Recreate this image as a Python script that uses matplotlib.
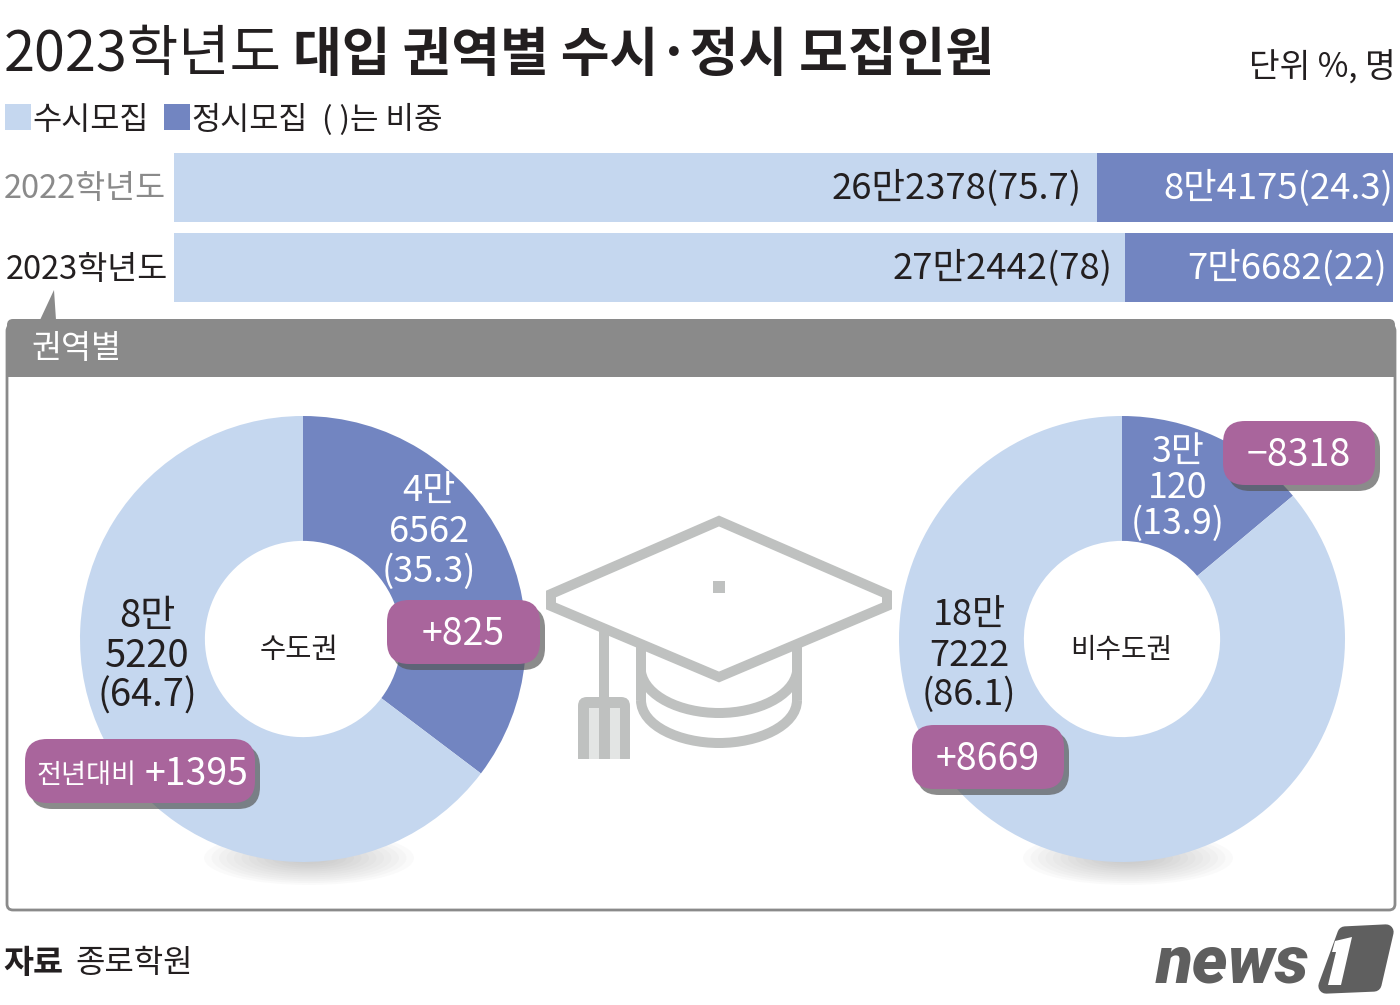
import matplotlib
matplotlib.use("Agg")
import matplotlib.pyplot as plt
from matplotlib.patches import Rectangle, FancyBboxPatch, Polygon, Ellipse, PathPatch
from matplotlib.path import Path

plt.rcParams['font.family'] = ['Noto Sans CJK KR', 'DejaVu Sans']

years = ["2022학년도", "2023학년도"]
susi = [75.7, 78]
jeongsi = [24.3, 22]
susi_labels = ["26만2378(75.7)", "27만2442(78)"]
jeongsi_labels = ["8만4175(24.3)", "7만6682(22)"]

donut_names = ["수도권", "비수도권"]
donut_jeongsi = [35.3, 13.9]
donut_susi = [64.7, 86.1]

LIGHT = "#c5d7ef"
DARK = "#7285c1"
PURPLE = "#a9659c"
CAP = "#bfc1c0"
TXT = "#231f20"
GREY = "#8a8a8a"
LOGO = "#5f5f5f"

W, H = 1400, 1005
fig = plt.figure(figsize=(W/100, H/100), dpi=100)
bg = fig.add_axes([0, 0, 1, 1])
bg.set_xlim(0, W)
bg.set_ylim(H, 0)
bg.axis("off")

# title
bg.text(4, 55, "2023학년도", fontsize=40.2, color=TXT, va="center")
bg.text(293, 55, "대입 권역별 수시·정시 모집인원", fontsize=38.2, color=TXT, va="center", fontweight="bold")
bg.text(1396, 68, "단위 %, 명", fontsize=24, color=TXT, va="center", ha="right")

# legend
bg.add_patch(Rectangle((5, 104), 26, 26, fc=LIGHT, ec="none"))
bg.text(32, 120, "수시모집", fontsize=22.8, color=TXT, va="center")
bg.add_patch(Rectangle((164, 104), 26, 26, fc=DARK, ec="none"))
bg.text(191, 120, "정시모집", fontsize=22.8, color=TXT, va="center")
bg.text(322, 120, "( )는 비중", fontsize=22.3, color=TXT, va="center")

# bars
ax = fig.add_axes([174/W, 1-302/H, (1393-174)/W, (302-153)/H])
ax.barh([0, 1], susi, height=0.8625, color=LIGHT)
ax.barh([0, 1], jeongsi, left=susi, height=0.8625, color=DARK)
ax.set_xlim(0, 100)
ax.set_ylim(1.43125, -0.43125)
ax.axis("off")
for i in range(2):
    ax.text(susi[i]-(1.25 if i == 0 else 1.0), i+0.015, susi_labels[i], ha="right", va="center", fontsize=26.2, color=TXT)
    ax.text(100 if i == 0 else 99.5, i+0.015, jeongsi_labels[i], ha="right", va="center", fontsize=26.2, color="white")
bg.text(4, 189, years[0], fontsize=23.5, color=GREY, va="center")
bg.text(6, 270, years[1], fontsize=23.5, color=TXT, va="center")
bg.add_patch(Polygon([[54, 290], [56, 320], [40, 320]], fc=GREY, ec="none"))

# panel
bg.add_patch(FancyBboxPatch((7, 325), 1388, 585, boxstyle="round,pad=0,rounding_size=6",
                            fc="white", ec=GREY, lw=2))
bg.add_patch(FancyBboxPatch((7, 319), 1388, 58, boxstyle="round,pad=0,rounding_size=6",
                            fc=GREY, ec="none"))
bg.add_patch(Rectangle((7, 340), 1388, 37, fc=GREY, ec="none"))
bg.text(32, 349, "권역별", fontsize=23.5, color="white", va="center")

# soft shadow under the donuts
for cx in (309, 1128):
    for k in range(14):
        f = 1 - k/14
        bg.add_patch(Ellipse((cx, 858), 210*f, 54*f, fc="#808080", ec="none", alpha=0.035))

# donuts
boxes = [(80, 416, 446), (899, 416, 446)]
for (x0, y0, d), a, b in zip(boxes, donut_jeongsi, donut_susi):
    dax = fig.add_axes([x0/W, 1-(y0+d)/H, d/W, d/H])
    dax.pie([a, b], colors=[DARK, LIGHT], startangle=90, counterclock=False,
            radius=1, wedgeprops=dict(width=0.56))
    dax.set_xlim(-1, 1)
    dax.set_ylim(-1, 1)

# everything over the donuts
top = fig.add_axes([0, 0, 1, 1], facecolor="none")
top.set_xlim(0, W)
top.set_ylim(H, 0)
top.axis("off")

# graduation cap
def curve(points, lw=7.2):
    codes = [Path.MOVETO] + [Path.CURVE4]*(len(points)-1)
    top.add_patch(PathPatch(Path(points, codes), fc="none", ec=CAP, lw=lw, capstyle="butt"))

top.plot([641, 641], [645, 700], color=CAP, lw=7.2, solid_capstyle="butt")
top.plot([797, 797], [645, 700], color=CAP, lw=7.2, solid_capstyle="butt")
curve([(641, 700), (641, 726), (680, 743), (719, 743), (758, 743), (797, 726), (797, 700)])
curve([(641, 672), (645, 696), (680, 713), (719, 713), (758, 713), (793, 696), (797, 672)])
top.plot([604, 604], [625, 700], color=CAP, lw=7.2, solid_capstyle="butt")
top.add_patch(Polygon([[719, 521], [887, 594], [887, 606], [719, 677], [551, 606], [551, 594]],
                      closed=True, fc="white", ec=CAP, lw=7.2, joinstyle="miter"))
top.add_patch(FancyBboxPatch((578, 697), 52, 70, boxstyle="round,pad=0,rounding_size=9", fc=CAP, ec="none"))
top.add_patch(Rectangle((575, 759), 60, 12, fc="white", ec="none"))
for x in (589, 610):
    top.add_patch(Rectangle((x, 708), 10, 51, fc="#e3e5e4", ec="none"))
top.add_patch(Rectangle((713, 581), 12, 12, fc=CAP, ec="none"))

# labels on donuts
def stacked(x, ys, lines, color=TXT, fs=26):
    for y, s in zip(ys, lines):
        top.text(x, y, s, ha="center", va="center", fontsize=fs, color=color)

stacked(429, [492, 532, 572], ["4만", "6562", "(35.3)"], color="white")
stacked(147, [616, 656, 696], ["8만", "5220", "(64.7)"], fs=27.5)
stacked(1178, [452, 488, 524], ["3만", "120", "(13.9)"], color="white", fs=25.8)
stacked(969, [616, 656, 695], ["18만", "7222", "(86.1)"])
top.text(299, 650, donut_names[0], ha="center", va="center", fontsize=20.5, color=TXT)
top.text(1121, 650, donut_names[1], ha="center", va="center", fontsize=20, color=TXT)

# change badges
def badge(x, y, w, h, s=None):
    top.add_patch(FancyBboxPatch((x+5, y+6), w, h, boxstyle="round,pad=0,rounding_size=22",
                                 fc="#555555", ec="none", alpha=0.68))
    top.add_patch(FancyBboxPatch((x, y), w, h, boxstyle="round,pad=0,rounding_size=22", fc=PURPLE, ec="none"))
    if s:
        top.text(x+w/2, y+h/2+2, s, ha="center", va="center", fontsize=27, color="white")

badge(387, 600, 153, 64, "+825")
badge(1223, 421, 152, 64, "−8318")
badge(912, 725, 152, 64, "+8669")
badge(25, 739, 230, 64)
top.text(37, 775, "전년대비", va="center", fontsize=19.6, color="white")
top.text(145, 774, "+1395", va="center", fontsize=27, color="white", fontweight="medium")

# footer
top.text(3, 963, "자료", fontsize=23.5, color=TXT, va="center", fontweight="bold")
top.text(75, 963, "종로학원", fontsize=23, color=TXT, va="center")
top.text(1156, 964, "news", fontsize=48.5, color=LOGO, va="center", fontweight="black",
         style="italic", family="Roboto")
top.add_patch(Polygon([[1345, 934], [1386, 932], [1374, 984], [1326, 986]], closed=True,
                      fc=LOGO, ec=LOGO, lw=11, joinstyle="round"))
top.add_patch(Polygon([[1335, 941], [1352, 937], [1341, 985], [1328, 985], [1336, 952], [1332, 952]],
                      closed=True, fc="white", ec="none"))

fig.savefig("out.png", dpi=100)
